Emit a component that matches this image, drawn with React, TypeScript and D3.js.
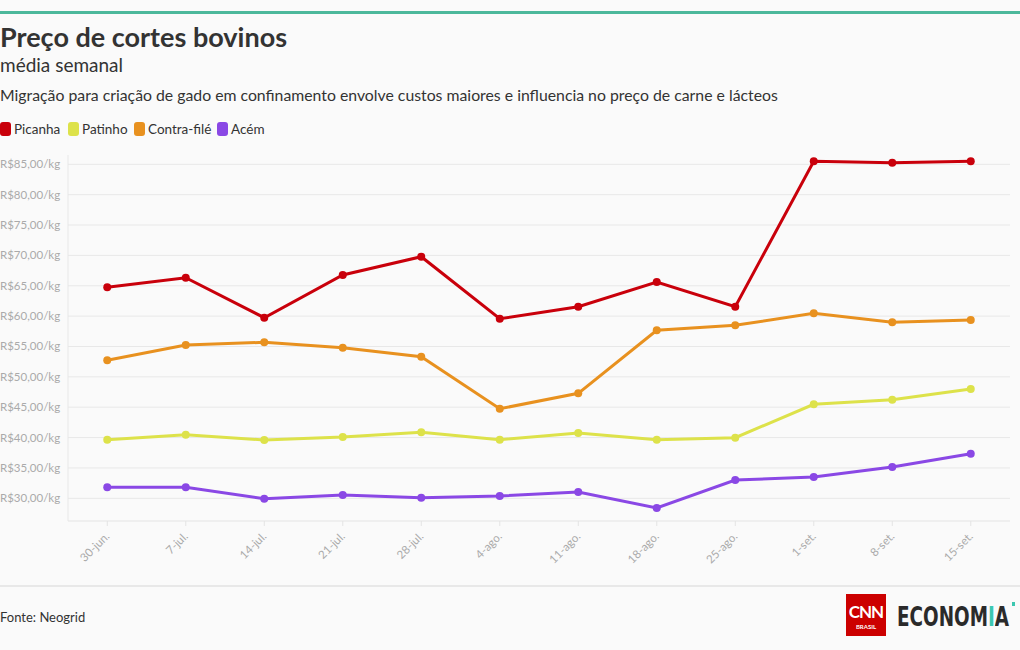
import React from 'react';
import * as d3 from 'd3';

// weekly average prices per kg
const weeks = ['30-jun.', '7-jul.', '14-jul.', '21-jul.', '28-jul.', '4-ago.', '11-ago.', '18-ago.', '25-ago.', '1-set.', '8-set.', '15-set.'];
const picanha = [64.74, 66.32, 59.74, 66.77, 69.78, 59.57, 61.55, 65.62, 61.55, 85.49, 85.26, 85.49];
const patinho = [39.65, 40.47, 39.6, 40.09, 40.87, 39.65, 40.75, 39.65, 39.98, 45.48, 46.24, 48.0];
const contraFile = [52.72, 55.24, 55.69, 54.8, 53.32, 44.75, 47.29, 57.66, 58.49, 60.46, 58.98, 59.36];
const acem = [31.81, 31.81, 29.93, 30.54, 30.1, 30.38, 31.04, 28.4, 33.01, 33.5, 35.15, 37.34];
const yTicks = [30, 35, 40, 45, 50, 55, 60, 65, 70, 75, 80, 85];

const seriesNames = ['Picanha', 'Patinho', 'Contra-filé', 'Acém'];
const seriesColors = ['#c9000b', '#dde24a', '#e8911f', '#8a48e5'];
const seriesValues = [picanha, patinho, contraFile, acem];

const font = 'Lato, "Open Sans", sans-serif';

const App = () => {
  const width = 1020;
  const height = 650;
  const plot = {left: 68, right: 1010, top: 155, bottom: 521};

  const x = d3.scalePoint<string>()
    .domain(weeks)
    .range([plot.left, plot.right])
    .padding(0.5);

  // y(85) ~ 164, y(30) ~ 498
  const y = d3.scaleLinear()
    .domain([30, 85])
    .range([498.3, 164.3]);

  const line = d3.line<number>()
    .x((d, i) => x(weeks[i]) as number)
    .y(d => y(d));

  const fmt = (v: number) => 'R$' + v + ',00/kg';

  // legend x offsets, matched to the reference
  const legendOffsets = [0, 68, 134, 217];

  return (
    <svg width={width} height={height} style={{position: 'absolute', left: 0, top: 0, background: '#fafafa'}} fontFamily={font}>
      <defs>
        {/* teal "I" in the ECONOMIA wordmark */}
        <linearGradient id='econ' gradientUnits='userSpaceOnUse' x1={0} x2={112} y1={0} y2={0}>
          <stop offset={0.812} stopColor='#2a2a2a' />
          <stop offset={0.812} stopColor='#3cc7b0' />
          <stop offset={0.872} stopColor='#3cc7b0' />
          <stop offset={0.872} stopColor='#2a2a2a' />
        </linearGradient>
      </defs>
      <rect x={0} y={0} width={width} height={height} fill='#fafafa' />
      <rect x={0} y={11} width={width} height={3} fill='#4cb89b' />
      <text x={0} y={47} fontSize={27} fontWeight={700} fill='#333'>Preço de cortes bovinos</text>
      <text x={0} y={72} fontSize={19} fill='#333'>média semanal</text>
      <text x={0} y={101} fontSize={15.8} fill='#333'>Migração para criação de gado em confinamento envolve custos maiores e influencia no preço de carne e lácteos</text>

      {seriesNames.map((name, i) => (
        <g key={name} transform={'translate(' + legendOffsets[i] + ',121)'}>
          <rect x={0} y={1} width={11} height={14} rx={3} fill={seriesColors[i]} />
          <text x={14} y={13} fontSize={13.5} fill='#333'>{name}</text>
        </g>
      ))}

      {yTicks.map(t => (
        <g key={t}>
          <line x1={plot.left} x2={plot.right} y1={y(t)} y2={y(t)} stroke='#e8e8e8' />
          <text x={0} y={y(t) + 4} fontSize={11.5} fill='#aaa'>{fmt(t)}</text>
        </g>
      ))}
      <line x1={plot.left} x2={plot.left} y1={plot.top} y2={plot.bottom} stroke='#e8e8e8' />
      <line x1={plot.left} x2={plot.right} y1={plot.bottom} y2={plot.bottom} stroke='#e4e4e4' />

      {weeks.map(w => (
        <g key={w} transform={'translate(' + x(w) + ',' + plot.bottom + ')'}>
          <line y1={0} y2={5} stroke='#e4e4e4' />
          <text transform='translate(3,16) rotate(-45)' textAnchor='end' fontSize={11.5} fill='#aaa'>{w}</text>
        </g>
      ))}

      {seriesValues.map((vals, si) => (
        <g key={seriesNames[si]}>
          <path d={line(vals) as string} fill='none' stroke={seriesColors[si]} strokeWidth={3} />
          {vals.map((v, i) => (
            <circle key={i} cx={x(weeks[i])} cy={y(v)} r={4} fill={seriesColors[si]} />
          ))}
        </g>
      ))}

      <line x1={0} x2={width} y1={586} y2={586} stroke='#d6d6d6' />
      <text x={0} y={622} fontSize={13} fill='#333'>Fonte: Neogrid</text>

      <g transform='translate(846,594)'>
        <rect x={0} y={0} width={40} height={42} fill='#cc0000' />
        <text x={20} y={24} textAnchor='middle' fontSize={17} fontWeight={700} fill='#fff' letterSpacing={-1}>CNN</text>
        <text x={20} y={35} textAnchor='middle' fontSize={6} fontWeight={700} fill='#fff'>BRASIL</text>
        <g transform='translate(51,32) scale(1,1.25)'>
          <text x={0} y={0} fontSize={21} fontWeight={700} fill='url(#econ)' textLength={112} lengthAdjust='spacingAndGlyphs'
            fontFamily='"Liberation Sans Narrow", "DejaVu Sans Condensed", sans-serif'>ECONOMIA</text>
        </g>
        <rect x={166} y={8} width={3} height={4} fill='#3cc7b0' />
      </g>
    </svg>
  );
};

export default App;
